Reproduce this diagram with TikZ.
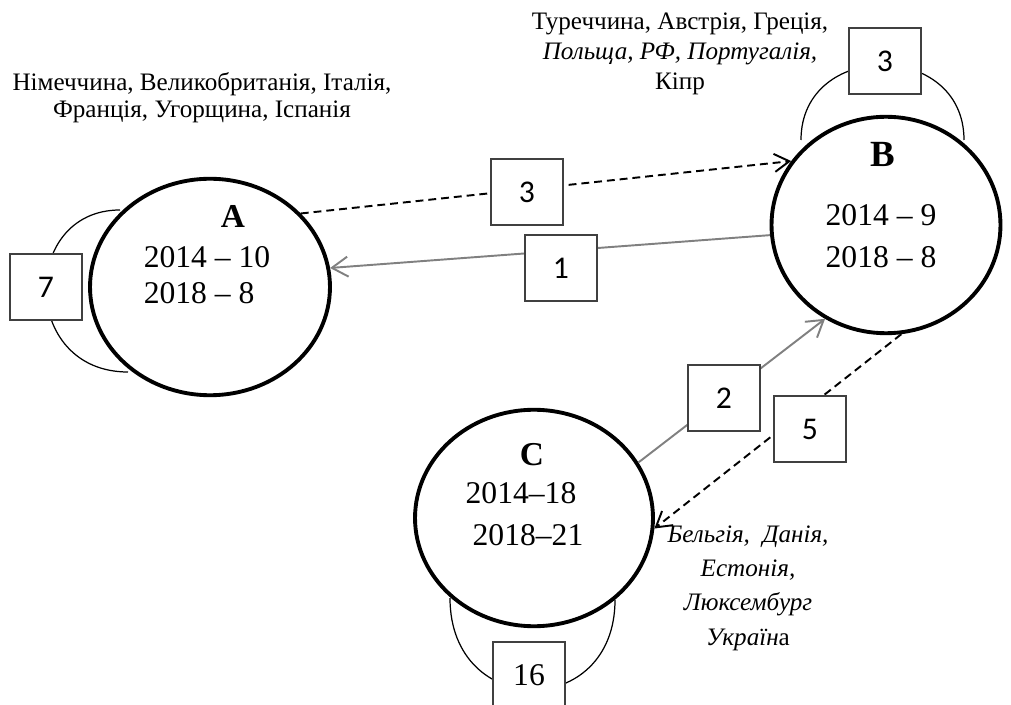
\documentclass[tikz,border=0pt]{standalone}
\usepackage{fontspec}
\setmainfont{Liberation Serif}
\newfontfamily\calfont{Carlito}
\usetikzlibrary{arrows.meta,positioning,shapes.geometric}

\begin{document}
\begin{tikzpicture}[
            x=0.02cm, y=-0.02cm,
            region/.style={draw, ellipse, line width=2.2pt, fill=white, inner sep=0pt},
            numbox/.style={draw=black!75, fill=white, line width=0.6pt,
                minimum width=1.44cm, minimum height=1.32cm,
                font=\calfont\fontsize{18}{20}\selectfont},
            selfarc/.style={line width=0.7pt},
            flowgray/.style={draw=black!50, line width=1.1pt,
                -{Straight Barb[length=3.2mm,width=4mm]}},
            flowdash/.style={line width=1.1pt, dash pattern=on 4.5pt off 2.8pt,
                -{Straight Barb[length=3mm,width=3.6mm]}},
            letter/.style={font=\bfseries\fontsize{19}{20}\selectfont},
            years/.style={font=\fontsize{18}{24}\selectfont},
            countries/.style={font=\fontsize{14.3}{16}\selectfont, align=center}
        ]
        \useasboundingbox (0,0) rectangle (1011,705);

        \coordinate (a0) at (210,287);
        \coordinate (b0) at (886,225);
        \coordinate (c0) at (534,518);

        \draw[selfarc] (120,210) .. controls (20,210) and (20,372) .. (128,372);
        \draw[selfarc] (801,140) .. controls (801,40) and (964,40) .. (964,140);
        \draw[selfarc] (450,598) .. controls (450,720) and (615,720) .. (615,600);

        \node[region, minimum width=4.8cm, minimum height=4.33cm] (A) at (a0) {};
        \node[region, minimum width=4.58cm, minimum height=4.33cm] (B) at (b0) {};
        \node[region, minimum width=4.76cm, minimum height=4.33cm] (C) at (c0) {};

        \node[letter] (titleA) at (233,216) {A};
        \node[years, align=left, font=\fontsize{18}{20.5}\selectfont] (yearsA) at (207,275) {2014 -- 10\\2018 -- 8};
        \node[letter, font=\bfseries\fontsize{21}{22}\selectfont] (titleB) at (883,154) {B};
        \node[years, align=center] (yearsB) at (881,236) {2014 -- 9\\2018 -- 8};
        \node[letter] (titleC) at (532,455) {C};
        \node[years] (yearsC1) at (521,493) {2014--18};
        \node[years] (yearsC2) at (528,535) {2018--21};

        \node[countries, font=\fontsize{14.3}{15.5}\selectfont] (listA) at (202,98)
            {Німеччина, Великобританія, Італія,\\Франція, Угорщина, Іспанія};
        \node[countries, font=\fontsize{14.3}{17}\selectfont] (listB) at (680,54)
            {Туреччина, Австрія, Греція,\\\textit{Польща, РФ, Португалія,}\\Кіпр};
        \node[countries, font=\fontsize{14.3}{19.5}\selectfont] (listC) at (748,588)
            {\textit{Бельгія,\ \ Данія,}\\\textit{Естонія,}\\\textit{Люксембург}\\\textit{Україн}а};

        \draw[flowdash] (A.39) -- (B.146);
        \draw[flowgray] (B.185) -- (A.9);
        \draw[flowgray] (C.28) -- (B.237);
        \draw[flowdash] (B.278) -- (C.355);

        \node[numbox] (n7) at (46,287) {7};
        \node[numbox] (n3top) at (885,61) {3};
        \node[numbox, font=\fontsize{18}{20}\selectfont] (n16) at (529,675) {16};
        \node[numbox] (n3) at (527,192) {3};
        \node[numbox] (n1) at (561,268) {1};
        \node[numbox] (n2) at (724,398) {2};
        \node[numbox] (n5) at (810,429) {5};
\end{tikzpicture}
\end{document}
